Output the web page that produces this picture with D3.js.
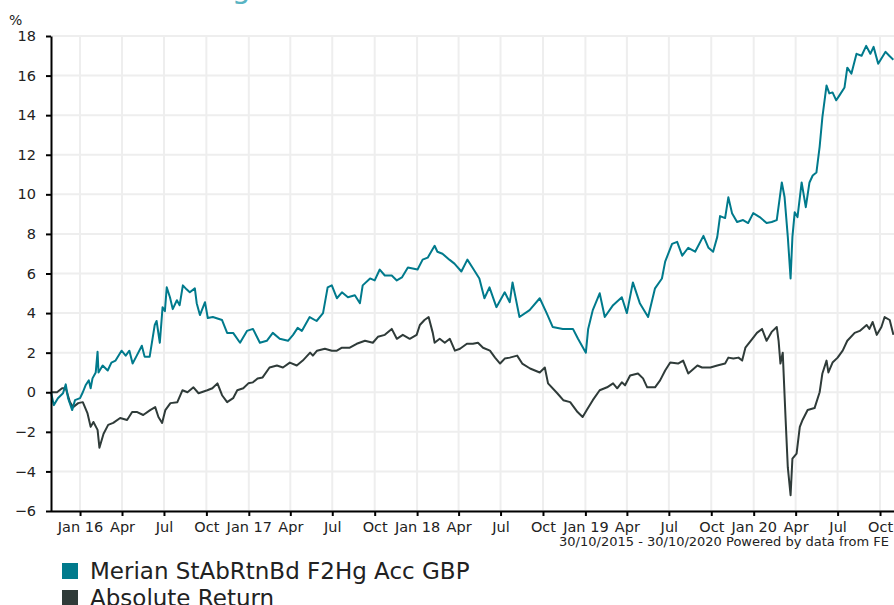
<!DOCTYPE html>
<html>
<head>
<meta charset="utf-8">
<script src="https://cdn.jsdelivr.net/npm/d3@7"></script>
<style>
  body { margin: 0; background: #fff; }
  svg { display: block; font-family: "DejaVu Sans", Verdana, sans-serif; }
</style>
</head>
<body>
<svg id="chart" width="894" height="605"></svg>
<script>
// fund series (Merian StAbRtnBd F2Hg Acc GBP), cumulative % return
const fundDates = [
  "2015-10-30","2015-11-05","2015-11-14","2015-11-25","2015-12-01","2015-12-06","2015-12-15","2015-12-21",
  "2016-01-01","2016-01-07","2016-01-13","2016-01-20","2016-01-24","2016-01-28","2016-02-04","2016-02-08",
  "2016-02-10","2016-02-19","2016-03-01","2016-03-09","2016-03-18","2016-03-31","2016-04-09","2016-04-17",
  "2016-04-24","2016-05-03","2016-05-14","2016-05-20","2016-05-31","2016-06-11","2016-06-15","2016-06-22",
  "2016-06-28","2016-07-03","2016-07-07","2016-07-14","2016-07-20","2016-07-29","2016-08-04","2016-08-11",
  "2016-08-19","2016-08-26","2016-09-06","2016-09-10","2016-09-17","2016-09-28","2016-10-04","2016-10-15",
  "2016-11-04","2016-11-15","2016-11-28","2016-12-13","2016-12-28","2017-01-10","2017-01-25","2017-02-09",
  "2017-02-22","2017-03-09","2017-03-27","2017-04-07","2017-04-17","2017-04-26","2017-05-13","2017-05-28",
  "2017-06-11","2017-06-21","2017-06-30","2017-07-11","2017-07-22","2017-08-04","2017-08-19","2017-08-30",
  "2017-09-05","2017-09-21","2017-10-01","2017-10-12","2017-10-23","2017-11-07","2017-11-18","2017-11-29",
  "2017-12-12","2018-01-02","2018-01-13","2018-01-24","2018-02-08","2018-02-14","2018-02-25","2018-03-12",
  "2018-03-23","2018-04-07","2018-04-20","2018-05-01","2018-05-16","2018-05-27","2018-06-07","2018-06-22",
  "2018-07-10","2018-07-21","2018-07-27","2018-08-11","2018-09-02","2018-09-24","2018-10-09","2018-10-22",
  "2018-11-13","2018-12-05","2018-12-16","2019-01-02","2019-01-07","2019-01-17","2019-02-01","2019-02-12",
  "2019-03-02","2019-03-21","2019-04-01","2019-04-14","2019-04-29","2019-05-17","2019-06-01","2019-06-16",
  "2019-06-23","2019-07-08","2019-07-19","2019-07-30","2019-08-12","2019-08-27","2019-09-14","2019-09-25",
  "2019-10-05","2019-10-14","2019-10-20","2019-10-31","2019-11-07","2019-11-15","2019-11-26","2019-12-09",
  "2019-12-20","2019-12-31","2020-01-14","2020-01-29","2020-02-09","2020-02-20","2020-03-02","2020-03-08",
  "2020-03-15","2020-03-21","2020-03-25","2020-03-30","2020-04-05","2020-04-14","2020-04-23","2020-05-01",
  "2020-05-08","2020-05-16","2020-05-23","2020-05-29","2020-06-07","2020-06-13","2020-06-20","2020-06-28",
  "2020-07-05","2020-07-16","2020-07-22","2020-07-31","2020-08-11","2020-08-22","2020-09-01","2020-09-10",
  "2020-09-17","2020-09-27","2020-10-13","2020-10-21","2020-10-30"
];
const fundValues = [
  0, -0.65, -0.3, -0.05, 0.4, -0.3, -0.9, -0.4,
  -0.3, 0.0, 0.35, 0.6, 0.2, 0.7, 1.0, 2.05,
  1.0, 1.35, 1.1, 1.5, 1.6, 2.1, 1.85, 2.1,
  1.45, 1.85, 2.35, 1.8, 1.8, 3.4, 3.6, 2.5,
  4.3, 4.1, 5.3, 4.8, 4.2, 4.65, 4.4, 5.4,
  5.2, 5.05, 5.25, 4.5, 3.9, 4.55, 3.75, 3.8,
  3.65, 3.0, 3.0, 2.5, 3.1, 3.2, 2.5, 2.6,
  3.0, 2.7, 2.6, 2.9, 3.25, 3.1, 3.8, 3.6,
  4.0, 5.3, 5.4, 4.75, 5.05, 4.8, 4.9, 4.5,
  5.4, 5.75, 5.65, 6.2, 5.9, 5.9, 5.65, 5.8,
  6.3, 6.2, 6.7, 6.8, 7.4, 7.1, 7.0, 6.7,
  6.5, 6.1, 6.7, 6.3, 5.75, 4.75, 5.3, 4.3,
  5.05, 4.55, 5.55, 3.8, 4.15, 4.75, 4.0, 3.3,
  3.2, 3.2, 2.7, 2.0, 3.2, 4.15, 5.0, 3.8,
  4.4, 4.8, 4.0, 5.55, 4.5, 3.8, 5.25, 5.75,
  6.6, 7.5, 7.6, 6.9, 7.3, 7.1, 7.9, 7.3,
  7.1, 7.85, 8.9, 8.8, 9.85, 9.05, 8.6, 8.7,
  8.55, 9.05, 8.85, 8.55, 8.6, 8.7, 10.6, 9.85,
  7.85, 5.75, 7.85, 9.1, 8.85, 10.6, 9.35, 10.6,
  10.95, 11.1, 12.4, 13.9, 15.5, 15.1, 15.15, 14.75,
  15.0, 15.4, 16.4, 16.1, 17.1, 17.0, 17.5, 17.1,
  17.45, 16.6, 17.2, 17.0, 16.8
];

// sector average (Absolute Return)
const sectorDates = [
  "2015-10-30","2015-11-12","2015-11-23","2015-12-01","2015-12-10","2015-12-17","2015-12-28","2016-01-07",
  "2016-01-17","2016-01-24","2016-01-30","2016-02-08","2016-02-12","2016-02-21","2016-03-02","2016-03-13",
  "2016-03-28","2016-04-12","2016-04-23","2016-05-04","2016-05-17","2016-06-01","2016-06-12","2016-06-19",
  "2016-06-27","2016-07-04","2016-07-15","2016-07-30","2016-08-10","2016-08-21","2016-09-03","2016-09-14",
  "2016-10-03","2016-10-14","2016-10-25","2016-11-04","2016-11-15","2016-11-28","2016-12-07","2016-12-20",
  "2016-12-31","2017-01-10","2017-01-20","2017-01-31","2017-02-15","2017-03-03","2017-03-16","2017-03-31",
  "2017-04-15","2017-04-28","2017-05-14","2017-05-20","2017-05-29","2017-06-15","2017-06-30","2017-07-11",
  "2017-07-22","2017-08-08","2017-08-23","2017-09-10","2017-09-27","2017-10-08","2017-10-23","2017-11-07",
  "2017-11-18","2017-12-01","2017-12-16","2017-12-31","2018-01-07","2018-01-17","2018-01-26","2018-02-04",
  "2018-02-08","2018-02-19","2018-03-02","2018-03-13","2018-03-24","2018-04-04","2018-04-19","2018-05-02",
  "2018-05-13","2018-05-24","2018-06-08","2018-06-19","2018-06-30","2018-07-10","2018-07-21","2018-08-06",
  "2018-08-17","2018-09-03","2018-09-24","2018-10-05","2018-10-12","2018-11-01","2018-11-14","2018-11-29",
  "2018-12-15","2018-12-26","2019-01-04","2019-01-17","2019-02-01","2019-02-17","2019-03-02","2019-03-11",
  "2019-03-21","2019-03-28","2019-04-08","2019-04-25","2019-05-06","2019-05-15","2019-06-01","2019-06-12",
  "2019-06-23","2019-07-04","2019-07-21","2019-08-01","2019-08-12","2019-09-01","2019-09-11","2019-09-29",
  "2019-10-14","2019-10-31","2019-11-07","2019-11-18","2019-11-29","2019-12-07","2019-12-14","2019-12-29",
  "2020-01-08","2020-01-19","2020-01-29","2020-02-09","2020-02-20","2020-02-24","2020-02-28","2020-03-04",
  "2020-03-10","2020-03-15","2020-03-21","2020-03-25","2020-04-03","2020-04-10","2020-04-16","2020-04-27",
  "2020-05-12","2020-05-23","2020-05-29","2020-06-07","2020-06-11","2020-06-20","2020-07-01","2020-07-12",
  "2020-07-22","2020-08-07","2020-08-18","2020-09-02","2020-09-08","2020-09-15","2020-09-24","2020-10-04",
  "2020-10-11","2020-10-22","2020-10-30"
];
const sectorValues = [
  0, 0, 0.2, 0.2, -0.5, -0.75, -0.55, -0.5,
  -1.05, -1.75, -1.5, -1.9, -2.8, -2.1, -1.65, -1.55,
  -1.3, -1.4, -1.0, -1.0, -1.15, -0.9, -0.75, -1.25,
  -1.55, -0.9, -0.55, -0.5, 0.1, 0.0, 0.25, -0.05,
  0.1, 0.2, 0.45, -0.15, -0.5, -0.3, 0.1, 0.2,
  0.45, 0.5, 0.7, 0.75, 1.25, 1.35, 1.25, 1.5,
  1.35, 1.6, 2.0, 1.85, 2.1, 2.2, 2.1, 2.1,
  2.25, 2.25, 2.45, 2.6, 2.5, 2.8, 2.9, 3.2,
  2.7, 2.9, 2.7, 2.9, 3.4, 3.65, 3.8, 3.0,
  2.5, 2.7, 2.5, 2.7, 2.1, 2.2, 2.45, 2.45,
  2.5, 2.25, 2.1, 1.75, 1.45, 1.7, 1.75, 1.85,
  1.45, 1.2, 1.0, 1.25, 0.45, -0.05, -0.4, -0.5,
  -1.0, -1.25, -0.9, -0.4, 0.1, 0.25, 0.45, 0.2,
  0.5, 0.35, 0.85, 0.95, 0.7, 0.25, 0.25, 0.6,
  1.1, 1.5, 1.45, 1.6, 0.95, 1.35, 1.25, 1.25,
  1.35, 1.45, 1.75, 1.7, 1.75, 1.6, 2.25, 2.7,
  3.0, 3.2, 2.6, 3.05, 3.3, 2.6, 1.45, 2.0,
  -1.25, -3.8, -5.2, -3.35, -3.1, -1.75, -1.4, -0.9,
  -0.8, 0.0, 0.95, 1.6, 1.0, 1.5, 1.75, 2.1,
  2.6, 3.0, 3.1, 3.4, 3.2, 3.55, 2.9, 3.3,
  3.8, 3.65, 2.9
];

const seriesNames = ["Merian StAbRtnBd F2Hg Acc GBP", "Absolute Return"];
const seriesColors = ["#007a8c", "#2f3b39"];
const yTicks = [-6, -4, -2, 0, 2, 4, 6, 8, 10, 12, 14, 16, 18];
const dateRangeText = "30/10/2015 - 30/10/2020 Powered by data from FE";

const parse = d3.timeParse("%Y-%m-%d");
const series = [
  { name: seriesNames[0], color: seriesColors[0], values: fundDates.map((d, i) => ({ date: parse(d), value: fundValues[i] })) },
  { name: seriesNames[1], color: seriesColors[1], values: sectorDates.map((d, i) => ({ date: parse(d), value: sectorValues[i] })) }
];

const svg = d3.select("#chart");
const plotLeft = 51, plotRight = 893.4, plotTop = 36, plotBottom = 511;

const x = d3.scaleTime()
  .domain([parse("2015-10-30"), parse("2020-10-30")])
  .range([plotLeft, plotRight]);
const y = d3.scaleLinear().domain([-6, 18]).range([plotBottom, plotTop]);

// title, mostly above the visible area (the reference only shows its bottom edge)
svg.append("text")
  .attr("x", 28).attr("y", -2)
  .attr("fill", "#59b4c3")
  .style("font-size", "30px")
  .text("Merian Strategic Absolute Return Bond");

// grid
const xTicks = d3.timeMonth.every(3).range(parse("2016-01-01"), parse("2020-10-31"));
svg.append("g").selectAll("line").data(yTicks).enter().append("line")
  .attr("x1", plotLeft).attr("x2", 894)
  .attr("y1", d => y(d)).attr("y2", d => y(d))
  .attr("stroke", "#eeeeee").attr("stroke-width", 2);
svg.append("g").selectAll("line").data(xTicks).enter().append("line")
  .attr("x1", d => x(d)).attr("x2", d => x(d))
  .attr("y1", plotTop).attr("y2", plotBottom)
  .attr("stroke", "#eeeeee").attr("stroke-width", 2);

// lines - sector first, fund on top
const line = d3.line().x(d => x(d.date)).y(d => y(d.value));
series.slice().reverse().forEach(s => {
  svg.append("path")
    .datum(s.values)
    .attr("fill", "none")
    .attr("stroke", s.color)
    .attr("stroke-width", 2)
    .attr("stroke-linejoin", "round")
    .attr("d", line);
});

// axes
const fmt = d => d.getMonth() === 0 ? d3.timeFormat("%b %y")(d) : d3.timeFormat("%b")(d);
const xAxis = svg.append("g")
  .attr("transform", `translate(0,${plotBottom})`)
  .call(d3.axisBottom(x).tickValues(xTicks).tickFormat(fmt).tickSize(5).tickPadding(6).tickSizeOuter(0));
xAxis.select(".domain").attr("stroke", "#000").attr("stroke-width", 2).attr("d", `M${plotLeft},0.5H894`);
xAxis.selectAll(".tick line").attr("stroke", "#000").attr("stroke-width", 2);
xAxis.selectAll("text").style("font-size", "14.5px").attr("fill", "#222").style("font-family", "DejaVu Sans, Verdana, sans-serif");

const yAxis = svg.append("g")
  .attr("transform", `translate(${plotLeft},0)`)
  .call(d3.axisLeft(y).tickValues(yTicks).tickSize(5).tickPadding(10).tickSizeOuter(0));
yAxis.select(".domain").attr("stroke", "#000").attr("stroke-width", 2);
yAxis.selectAll(".tick line").attr("stroke", "#000").attr("stroke-width", 2);
yAxis.selectAll("text").style("font-size", "14.5px").attr("fill", "#222").style("font-family", "DejaVu Sans, Verdana, sans-serif");

svg.append("text").attr("x", 9).attr("y", 25).style("font-size", "14px").attr("fill", "#222").text("%");

svg.append("text")
  .attr("x", 889).attr("y", 546)
  .attr("text-anchor", "end")
  .style("font-size", "13px").attr("fill", "#222")
  .text(dateRangeText);

// legend
const legend = svg.append("g").selectAll("g").data(series).enter().append("g")
  .attr("transform", (d, i) => `translate(62,${563 + i * 27})`);
legend.append("rect").attr("width", 16).attr("height", 16).attr("fill", d => d.color);
legend.append("text").attr("x", 28).attr("y", 16)
  .style("font-size", "23px").attr("fill", "#222")
  .text(d => d.name);
</script>
</body>
</html>
